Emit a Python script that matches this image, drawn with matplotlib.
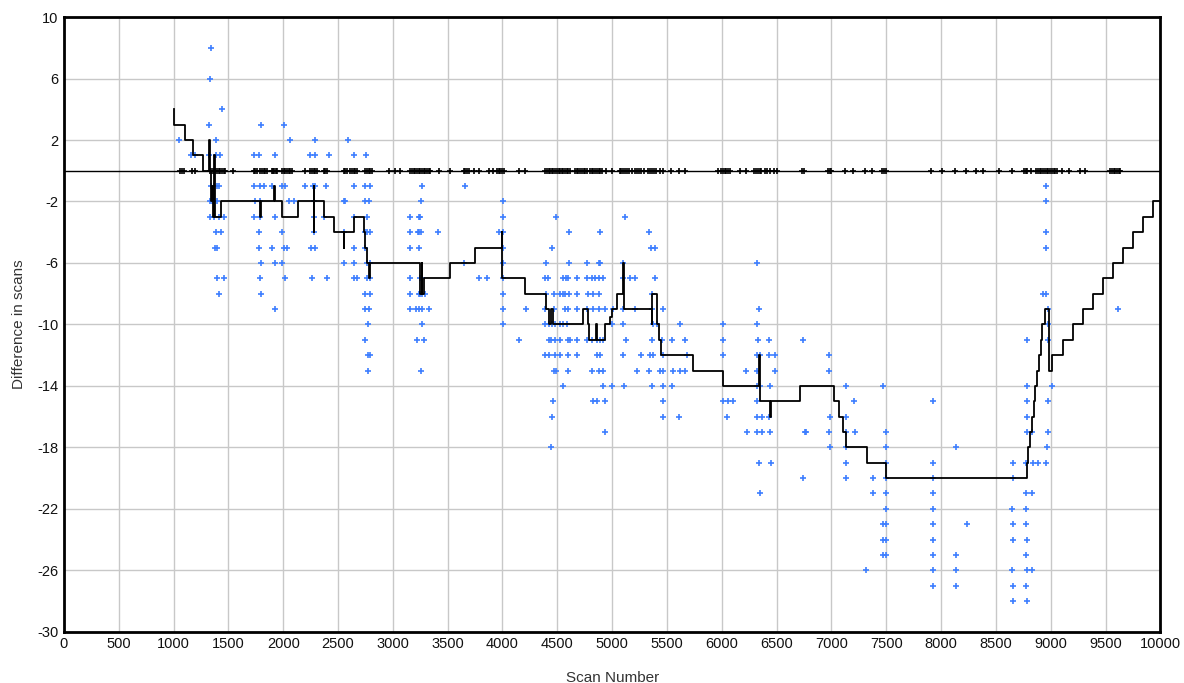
import matplotlib.pyplot as plt

# scan number / difference pairs, grouped by scan range
pts_1000 = [(1053, 2), (1162, 1), (1199, 1), (1326, 3), (1330, 6), (1339, 8), (1326, 1),
            (1390, 1), (1427, 1), (1390, 2), (1442, 4), (1340, -1), (1370, -1), (1396, -1),
            (1412, -1), (1329, -2), (1350, -2), (1396, -2), (1335, -3), (1366, -3), (1411, -3),
            (1457, -3), (1390, -4), (1433, -4), (1381, -5), (1396, -5), (1396, -7), (1457, -7),
            (1417, -8)]

pts_1700 = [(1797, 3), (1730, 1), (1782, 1), (1922, 1), (1730, -1), (1785, -1), (1822, -1),
            (1898, -1), (1740, -2), (1791, -2), (1730, -3), (1791, -3), (1922, -3), (1782, -4),
            (1782, -5), (1898, -5), (1797, -6), (1922, -6), (1791, -7), (1797, -8), (1928, -9),
            (2010, 3), (2059, 2), (1989, -1), (2019, -1), (2049, -2), (2095, -2), (1989, -4),
            (2004, -5), (2034, -5), (1989, -6), (2019, -7),
            (2287, 2), (2247, 1), (2287, 1), (2195, -1), (2268, -1), (2287, -1), (2277, -2),
            (2277, -3), (2277, -4), (2256, -5), (2287, -5), (2262, -7),
            (2414, 1), (2390, -1), (2375, -3), (2399, -7)]

pts_2500 = [(2590, 2), (2642, 1), (2642, -1), (2551, -2), (2566, -2), (2642, -3), (2551, -4),
            (2642, -5), (2551, -6), (2642, -6), (2642, -7), (2672, -7),
            (2754, 1), (2748, -1), (2794, -1), (2748, -2), (2779, -2), (2764, -3), (2748, -4),
            (2764, -4), (2794, -4), (2748, -5), (2764, -6), (2794, -6), (2764, -7), (2794, -7),
            (2748, -8), (2794, -8), (2748, -9), (2779, -9), (2770, -10), (2748, -11),
            (2770, -12), (2794, -12), (2770, -13)]

pts_3100 = [(3270, -1), (3260, -2), (3159, -3), (3235, -3), (3250, -3), (3159, -4), (3225, -4),
            (3240, -4), (3260, -4), (3408, -4), (3159, -5), (3240, -5), (3159, -7), (3245, -7),
            (3265, -7), (3159, -8), (3235, -8), (3250, -8), (3265, -8), (3296, -8), (3159, -9),
            (3215, -9), (3240, -9), (3265, -9), (3326, -9), (3265, -10), (3220, -11),
            (3280, -11), (3260, -13),
            (3660, -1), (3652, -6), (3788, -7), (3863, -7),
            (4003, -2), (4003, -3), (3965, -4), (4003, -4), (4003, -5), (4003, -6), (4003, -7),
            (4003, -8), (4003, -9), (4003, -10), (4155, -11), (4216, -9)]

pts_4400 = [(4490, -3), (4605, -4), (4893, -4), (4456, -5), (4395, -6), (4611, -6), (4769, -6),
            (4876, -6), (4891, -6), (4389, -7), (4411, -7), (4556, -7), (4581, -7), (4602, -7),
            (4678, -7), (4769, -7), (4815, -7), (4845, -7), (4876, -7), (4921, -7), (4398, -8),
            (4471, -8), (4526, -8), (4556, -8), (4572, -8), (4611, -8), (4678, -8), (4784, -8),
            (4830, -8), (4876, -8), (4389, -9), (4471, -9), (4572, -9), (4602, -9), (4678, -9),
            (4769, -9), (4830, -9), (4876, -9), (4936, -9), (4389, -10), (4420, -10),
            (4450, -10), (4480, -10), (4526, -10), (4556, -10), (4587, -10), (4420, -11),
            (4441, -11), (4480, -11), (4526, -11), (4602, -11), (4617, -11), (4678, -11),
            (4769, -11), (4815, -11), (4860, -11), (4891, -11), (4921, -11), (4389, -12),
            (4420, -12), (4480, -12), (4526, -12), (4602, -12), (4678, -12), (4860, -12),
            (4891, -12), (4471, -13), (4490, -13), (4602, -13), (4815, -13), (4876, -13),
            (4921, -13), (4556, -14), (4921, -14), (4465, -15), (4830, -15), (4860, -15),
            (4936, -15), (4456, -16), (4936, -17), (4441, -18)]

pts_5000 = [(5116, -3), (5333, -4), (5355, -5), (5387, -5), (5103, -6), (5103, -7),
            (5164, -7), (5210, -7), (5392, -7), (5362, -8), (5012, -9), (5103, -9), (5210, -9),
            (5362, -9), (5468, -9), (4997, -10), (5103, -10), (5377, -10), (5407, -10),
            (5620, -10), (5128, -11), (5362, -11), (5453, -11), (5544, -11), (5665, -11),
            (5097, -12), (5264, -12), (5346, -12), (5377, -12), (5462, -12), (5681, -12),
            (5225, -13), (5340, -13), (5437, -13), (5468, -13), (5559, -13), (5620, -13),
            (5665, -13), (4997, -14), (5112, -14), (5362, -14), (5468, -14), (5544, -14),
            (5462, -15), (5462, -16), (5614, -16)]

pts_6000 = [(6325, -6), (6340, -9), (6015, -10), (6319, -10), (6015, -11), (6334, -11),
            (6434, -11), (6738, -11), (6015, -12), (6319, -12), (6349, -12), (6434, -12),
            (6486, -12), (6222, -13), (6319, -13), (6486, -13), (6319, -14), (6349, -14),
            (6440, -14), (6015, -15), (6060, -15), (6106, -15), (6319, -15), (6045, -16),
            (6319, -16), (6364, -16), (6434, -16), (6234, -17), (6319, -17), (6364, -17),
            (6440, -17), (6769, -17), (6340, -19), (6450, -19), (6738, -20), (6349, -21)]

pts_6900 = [(6979, -12), (6979, -13), (7134, -14), (7474, -14), (7207, -15), (7924, -15),
            (6988, -16), (7134, -16), (6760, -17), (6979, -17), (7134, -17), (7219, -17),
            (7498, -17), (6988, -18), (7134, -18), (7498, -18), (8136, -18), (7134, -19),
            (7498, -19), (7924, -19), (7134, -20), (7383, -20), (7498, -20), (7924, -20),
            (7383, -21), (7498, -21), (7924, -21), (7498, -22), (7924, -22), (7474, -23),
            (7498, -23), (7924, -23), (8240, -23), (7474, -24), (7498, -24), (7924, -24),
            (7474, -25), (7498, -25), (7924, -25), (8136, -25), (7316, -26), (7924, -26),
            (8136, -26), (7924, -27), (8136, -27)]

pts_8600 = [(8956, -1), (8956, -2), (8956, -4), (8956, -5), (8930, -8), (8956, -8),
            (8972, -9), (9616, -9), (8972, -10), (8781, -11), (8972, -11), (8781, -14),
            (9009, -14), (8781, -15), (8978, -15), (8781, -16), (8781, -17), (8832, -17),
            (8972, -17), (8963, -18), (8653, -19), (8775, -19), (8841, -19), (8881, -19),
            (8957, -19), (8653, -20), (8775, -21), (8832, -21), (8644, -22), (8775, -22),
            (8653, -23), (8772, -23), (8653, -24), (8781, -24), (8772, -25), (8644, -26),
            (8781, -26), (8832, -26), (8653, -27), (8775, -27), (8653, -28), (8781, -28)]

# scans with zero difference, drawn on the baseline
zero_scans = [1062, 1077, 1092, 1168, 1199, 1335, 1350, 1366, 1381, 1396, 1411, 1427, 1442,
              1457, 1472, 1542, 1730, 1745, 1761, 1791, 1806, 1822, 1837, 1852, 1898, 1910,
              1919, 1931, 1943, 1989, 2004, 2019, 2034, 2049, 2064, 2080, 2195, 2247, 2262,
              2277, 2292, 2308, 2369, 2384, 2399, 2551, 2566, 2581, 2612, 2627, 2642, 2657,
              2672, 2748, 2763, 2779, 2794, 2809, 2961, 3022, 3068, 3159, 3174, 3189, 3204,
              3219, 3235, 3250, 3265, 3280, 3295, 3311, 3326, 3341, 3417, 3523, 3645, 3660,
              3675, 3690, 3736, 3782, 3873, 3918, 3949, 3964, 3979, 3994, 4010, 4155, 4207,
              4389, 4404, 4420, 4435, 4450, 4465, 4480, 4496, 4511, 4526, 4541, 4556, 4571,
              4587, 4602, 4617, 4663, 4678, 4693, 4709, 4724, 4739, 4754, 4769, 4799, 4815,
              4830, 4845, 4860, 4876, 4891, 4909, 4940, 4998, 5068, 5084, 5100, 5116, 5138,
              5158, 5180, 5212, 5228, 5244, 5260, 5292, 5330, 5346, 5362, 5378, 5403, 5435,
              5467, 5541, 5611, 5668, 5962, 5994, 6010, 6026, 6042, 6058, 6074, 6169, 6217,
              6297, 6313, 6329, 6345, 6361, 6393, 6409, 6441, 6473, 6505, 6734, 6754, 6967,
              6983, 6999, 7127, 7200, 7309, 7373, 7462, 7478, 7500, 7909, 8005, 8126, 8228,
              8318, 8382, 8532, 8643, 8755, 8771, 8787, 8819, 8867, 8883, 8899, 8915, 8930,
              8946, 8962, 8978, 8994, 9010, 9026, 9042, 9058, 9106, 9170, 9266, 9314, 9545,
              9560, 9575, 9590, 9605, 9620, 9635]

# running offset (step curve), value holds until the next scan
step_scan = [1000, 1005, 1101, 1178, 1265, 1326, 1333, 1340, 1352, 1360,
             1372, 1380, 1433, 1785, 1800, 1919, 1925, 1989, 2135, 2277,
             2280, 2285, 2375, 2460, 2551, 2558, 2642, 2733, 2745, 2765,
             2779, 2790, 3250, 3262, 3270, 3280, 3523, 3751, 3994, 4000,
             4207, 4395, 4420, 4441, 4465, 4733, 4784, 4790, 4854, 4866,
             4936, 4982, 4997, 5048, 5097, 5110, 5362, 5368, 5407, 5432,
             5450, 5741, 6015, 6340, 6350, 6440, 6450, 6714, 7020, 7066,
             7105, 7133, 7322, 7498, 8781, 8797, 8813, 8829, 8845, 8861,
             8877, 8893, 8909, 8925, 8945, 8987, 9008, 9108, 9200, 9297,
             9388, 9480, 9570, 9660, 9750, 9840, 9930, 10000]
step_diff = [4, 3, 2, 1, 0, 2, 0, -2, -1, -3,
             1, -3, -2, -3, -2, -1, -2, -3, -2, -1,
             -4, -2, -3, -4, -5, -4, -3, -4, -5, -6,
             -7, -6, -8, -6, -8, -7, -6, -5, -4, -7,
             -8, -9, -10, -9, -10, -9, -10, -11, -10, -11,
             -10, -9.5, -9, -8, -6, -9, -10, -8, -10, -11,
             -12, -13, -14, -12, -15, -16, -15, -14, -15, -16,
             -17, -18, -19, -20, -19, -18, -17, -16, -15, -14,
             -13, -12, -11, -10, -9, -13, -12, -11, -10, -9,
             -8, -7, -6, -5, -4, -3, -2, -2]

x_ticks = list(range(0, 10001, 500))
y_ticks = list(range(-30, 11, 4))

plt.rcParams['font.family'] = ['Liberation Sans', 'DejaVu Sans']
plt.rcParams['axes.unicode_minus'] = False

fig = plt.figure(figsize=(11.84, 6.83), dpi=100)
ax = fig.add_axes([0.054, 0.075, 0.926, 0.900])

todos = pts_1000 + pts_1700 + pts_2500 + pts_3100 + pts_4400 + pts_5000 + pts_6000 + pts_6900 + pts_8600
bx = [p[0] for p in todos]
by = [p[1] for p in todos]

ax.axhline(0, color='black', lw=1.0, zorder=2)
ax.plot(zero_scans, [0] * len(zero_scans), ls='none', marker='+', ms=4, mew=1.2,
        color='black', zorder=3)
ax.plot(bx, by, ls='none', marker='+', ms=4, mew=1.2, color='#3d7eff', zorder=4)
ax.plot(step_scan, step_diff, drawstyle='steps-post', color='black', lw=1.3, zorder=5)

ax.set_xlim(0, 10000)
ax.set_ylim(-30, 10)
ax.set_xticks(x_ticks)
ax.set_yticks(y_ticks)
ax.grid(True, color='#c8c8c8', lw=1.0)
ax.set_axisbelow(True)
ax.tick_params(length=0, labelsize=10.5, pad=4, colors='#111111')
for s in ax.spines.values():
    s.set_linewidth(2)
    s.set_color('black')

ax.set_xlabel('Scan Number', fontsize=11, color='#333333', labelpad=14)
ax.set_ylabel('Difference in scans', fontsize=11, color='#333333', labelpad=8)

fig.savefig('out.png', dpi=100)
